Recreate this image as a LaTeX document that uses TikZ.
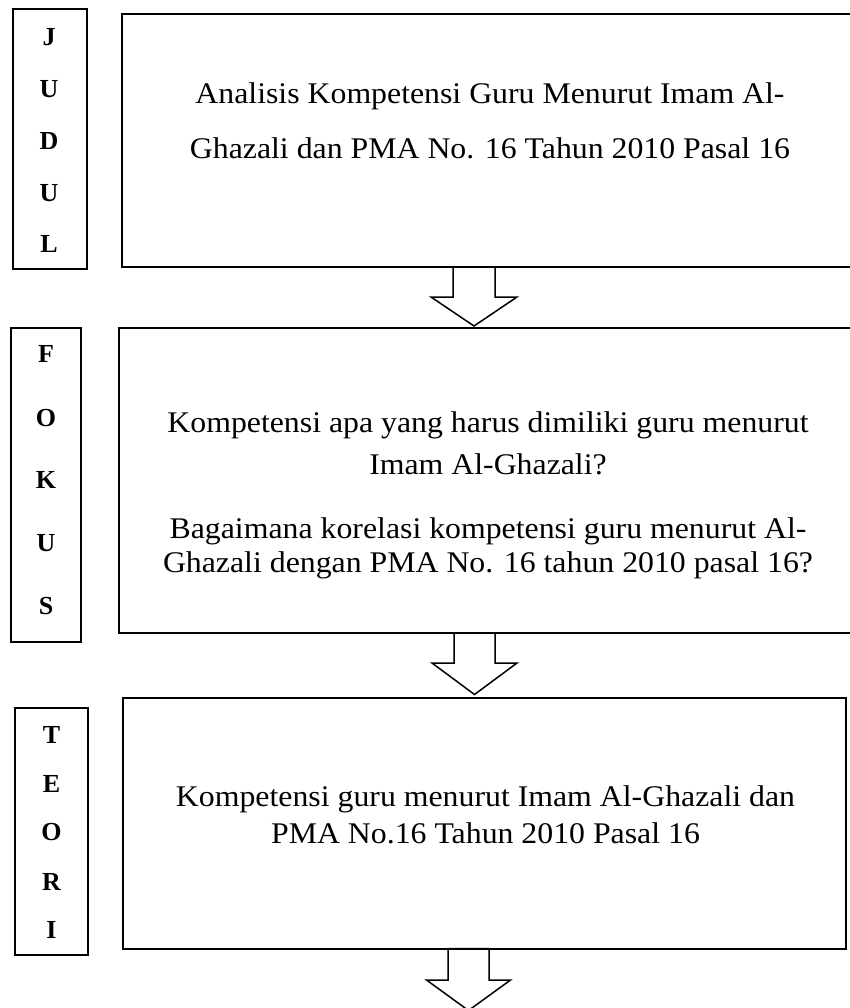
\documentclass[tikz,border=0pt]{standalone}
\usepackage{fontspec}
\setmainfont{Liberation Serif}
\newfontfamily\widefont[FakeStretch=1.06]{Liberation Serif}
\usetikzlibrary{calc}
\begin{document}
\begin{tikzpicture}[x=1pt,y=-1pt,
  frame/.style={draw, line width=2pt, inner sep=0pt, outer sep=0pt},
  txt/.style={font=\widefont\fontsize{30}{36}\selectfont, anchor=base, inner sep=0pt},
  lab/.style={font=\fontsize{26}{30}\selectfont\bfseries, anchor=base, inner sep=0pt},
  blockarrow/.style={draw, line width=1.5pt, line join=miter}]
\useasboundingbox (0,0) rectangle (849,1008);

% side label boxes
\node[frame, minimum width=74.6, minimum height=260] (s1) at (50,139.3) {};
\node[frame, minimum width=70, minimum height=314] (s2) at (46,485) {};
\node[frame, minimum width=73, minimum height=247] (s3) at (51.5,831.5) {};

% main boxes
\node[frame, minimum width=729, minimum height=253] (b1) at (486.5,140.5) {};
\node[frame, minimum width=732, minimum height=305] (b2) at (485,480.5) {};
\node[frame, minimum width=723, minimum height=251] (b3) at (484.5,823) {};

% side letters
\foreach \l/\y [count=\i] in {J/46,U/97.5,D/150,U/201.5,L/252.5}
  \node[lab] (j\i) at (49,\y) {\l};
\foreach \l/\y [count=\i] in {F/362.7,O/426,K/488.3,U/551.7,S/614}
  \node[lab] (f\i) at (46,\y) {\l};
\foreach \l/\y [count=\i] in {T/743,E/792,O/840,R/890,I/938}
  \node[lab] (t\i) at (51.5,\y) {\l};

% box texts
\node[txt] (b1l1) at (490,104) {Analisis Kompetensi Guru Menurut Imam Al-};
\node[txt] (b1l2) at (490,159) {Ghazali dan PMA No. 16 Tahun 2010 Pasal 16};

\node[txt] (b2l1) at (488,432.5) {Kompetensi apa yang harus dimiliki guru menurut};
\node[txt] (b2l2) at (488,474) {Imam Al-Ghazali?};
\node[txt] (b2l3) at (488,538) {Bagaimana korelasi kompetensi guru menurut Al-};
\node[txt] (b2l4) at (488,572) {Ghazali dengan PMA No. 16 tahun 2010 pasal 16?};

\node[txt] (b3l1) at (485.5,806) {Kompetensi guru menurut Imam Al-Ghazali dan};
\node[txt] (b3l2) at (485.5,843.5) {PMA No.16 Tahun 2010 Pasal 16};

% block arrows
\coordinate (a1) at ($(b1.south)+(-12.5,0)$);
\coordinate (h1) at ($(a1 |- b2.north)+(0,-2)$);
\draw[blockarrow] ($(a1)+(-21,0)$) -- ($(a1)+(-21,30)$) -- ($(a1)+(-43,30)$) -- (h1)
  -- ($(a1)+(43,30)$) -- ($(a1)+(21,30)$) -- ($(a1)+(21,0)$) -- cycle;

\coordinate (a2) at ($(b2.south)+(-10.5,0)$);
\coordinate (h2) at ($(a2 |- b3.north)+(0,-3)$);
\draw[blockarrow] ($(a2)+(-20.5,0)$) -- ($(a2)+(-20.5,30)$) -- ($(a2)+(-42.5,30)$) -- (h2)
  -- ($(a2)+(42.5,30)$) -- ($(a2)+(20.5,30)$) -- ($(a2)+(20.5,0)$) -- cycle;

\coordinate (a3) at ($(b3.south)+(-16,0)$);
\coordinate (h3) at ($(a3)+(0,62)$);
\draw[blockarrow] ($(a3)+(-20.5,0)$) -- ($(a3)+(-20.5,31.5)$) -- ($(a3)+(-42,31.5)$) -- (h3)
  -- ($(a3)+(42,31.5)$) -- ($(a3)+(20.5,31.5)$) -- ($(a3)+(20.5,0)$) -- cycle;
\end{tikzpicture}
\end{document}
